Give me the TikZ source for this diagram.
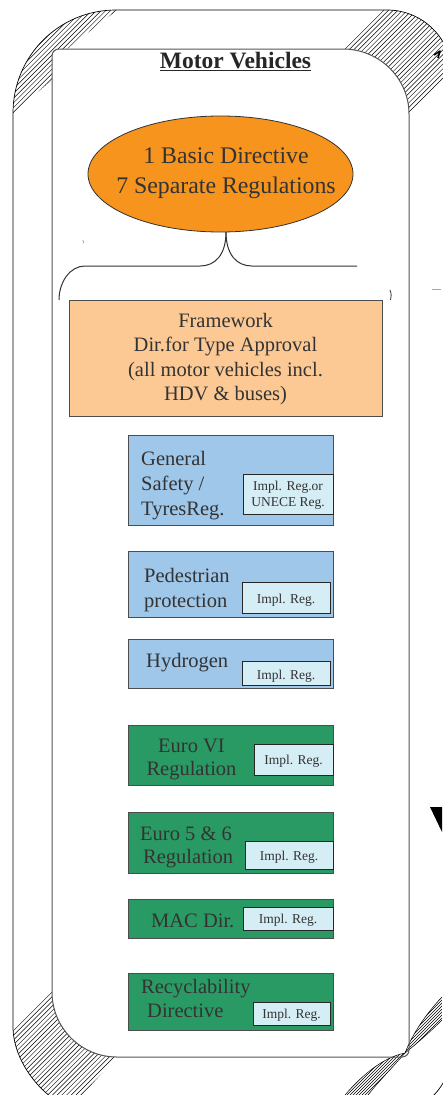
\documentclass[tikz,border=0pt]{standalone}
\usepackage{fontspec}
\setmainfont{Liberation Serif}
\usetikzlibrary{shapes.geometric}
\definecolor{ellorange}{HTML}{F7941E}
\definecolor{fwpeach}{HTML}{FCC995}
\definecolor{safeblue}{HTML}{9FC7EA}
\definecolor{envgreen}{HTML}{2A9A65}
\definecolor{implcyan}{HTML}{D5EDF5}
\definecolor{txtgray}{HTML}{333333}
\definecolor{framegray}{HTML}{555555}
\begin{document}
\begin{tikzpicture}[x=1pt,y=-1pt,
  outerln/.style={draw=black, line width=0.7pt},
  innerln/.style={draw=framegray, line width=1pt},
  hatchln/.style={line width=0.45pt, black},
  fbox/.style={draw=black!70, line width=0.9pt, inner sep=0pt},
  ibox/.style={draw=black!85, fill=implcyan, line width=0.9pt, inner sep=0pt},
  bigtxt/.style={inner sep=0pt, text=txtgray, font=\fontsize{20.5}{24}\selectfont},
  ebtxt/.style={inner sep=0pt, text=txtgray, font=\fontsize{23.8}{28}\selectfont},
  smalltxt/.style={inner sep=0pt, text=txtgray, font=\fontsize{13.5}{16}\selectfont},
  bracestyle/.style={draw=black!80, line width=1pt},
]
\useasboundingbox (0,0) rectangle (442,1095);
\fill[white] (0,0) rectangle (442,1095);

% ---------- hatched corners ----------
% top left
\begin{scope}[even odd rule]
\clip (0,124) -- (52,80) -- (67,49) -- (130,0) -- (0,0) -- cycle;
\clip (13,113) .. controls (13,56) and (59,10) .. (116,10) -- (387,10) .. controls (423,10) and (452,39) .. (452,75) -- (452,1050) .. controls (452,1086) and (423,1115) .. (387,1115) -- (101,1115) .. controls (52,1115) and (13,1066) .. (13,1027) -- cycle
 (52,56) .. controls (52,52) and (55,49) .. (59,49) -- (343,49) .. controls (379,49) and (409,78) .. (409,114) -- (409,1050) .. controls (409,1054) and (406,1057) .. (402,1057) -- (117,1057) .. controls (81,1057) and (52,1028) .. (52,992) -- cycle;
\foreach \c in {60,64.7,...,150} \draw[hatchln] (\c,0) -- ++(-300,300);
\end{scope}
% top right
\begin{scope}[even odd rule]
\clip (390,0) -- (330,63) -- (400,121) -- (460,65) -- (460,0) -- cycle;
\clip (13,113) .. controls (13,56) and (59,10) .. (116,10) -- (387,10) .. controls (423,10) and (452,39) .. (452,75) -- (452,1050) .. controls (452,1086) and (423,1115) .. (387,1115) -- (101,1115) .. controls (52,1115) and (13,1066) .. (13,1027) -- cycle
 (52,56) .. controls (52,52) and (55,49) .. (59,49) -- (343,49) .. controls (379,49) and (409,78) .. (409,114) -- (409,1050) .. controls (409,1054) and (406,1057) .. (402,1057) -- (117,1057) .. controls (81,1057) and (52,1028) .. (52,992) -- cycle;
\foreach \c in {380,384.7,...,545} \draw[hatchln] (\c,0) -- ++(-300,300);
\end{scope}
% bottom left
\begin{scope}[even odd rule]
\clip (0,1043) -- (60,984) -- (125,1048) -- (70,1108) -- (0,1108) -- cycle;
\clip (13,113) .. controls (13,56) and (59,10) .. (116,10) -- (387,10) .. controls (423,10) and (452,39) .. (452,75) -- (452,1050) .. controls (452,1086) and (423,1115) .. (387,1115) -- (101,1115) .. controls (52,1115) and (13,1066) .. (13,1027) -- cycle
 (52,56) .. controls (52,52) and (55,49) .. (59,49) -- (343,49) .. controls (379,49) and (409,78) .. (409,114) -- (409,1050) .. controls (409,1054) and (406,1057) .. (402,1057) -- (117,1057) .. controls (81,1057) and (52,1028) .. (52,992) -- cycle;
\foreach \c in {1030,1034.7,...,1200} \draw[hatchln] (\c-900,900) -- ++(-300,300);
\end{scope}
% bottom right curl
\begin{scope}
\clip (345,1095) .. controls (365,1072) and (385,1057) .. (405,1053) .. controls (392,1068) and (378,1082) .. (368,1095) -- cycle
      (405,1053) .. controls (412,1035) and (425,1015) .. (442,997) -- (442,1020) .. controls (430,1032) and (415,1045) .. (405,1053) -- cycle;
\foreach \c in {1430,1433,...,1475} \draw[hatchln] (\c-900,900) -- ++(-300,300);
\end{scope}
\draw[line width=0.5pt] (345,1095) .. controls (365,1072) and (385,1057) .. (405,1053) .. controls (392,1068) and (378,1082) .. (368,1095);
\draw[line width=0.5pt] (405,1053) .. controls (412,1035) and (425,1015) .. (442,997);
\draw[line width=0.5pt] (442,1020) .. controls (430,1032) and (415,1045) .. (405,1053);

% ---------- outer and inner frames ----------
\draw[outerln] (13,113) .. controls (13,56) and (59,10) .. (116,10) -- (387,10) .. controls (423,10) and (452,39) .. (452,75) -- (452,1050) .. controls (452,1086) and (423,1115) .. (387,1115) -- (101,1115) .. controls (52,1115) and (13,1066) .. (13,1027) -- cycle;
\draw[innerln] (52,56) .. controls (52,52) and (55,49) .. (59,49) -- (343,49) .. controls (379,49) and (409,78) .. (409,114) -- (409,1050) .. controls (409,1054) and (406,1057) .. (402,1057) -- (117,1057) .. controls (81,1057) and (52,1028) .. (52,992) -- cycle;

% fragments at the right edge
\draw[line width=1.6pt, line join=round] (434,55) -- (440,51) -- (438,58);
\draw[black!35, line width=1pt] (432,289) -- (441,289);
\fill[black] (430,807) -- (442,807) -- (442,832) -- cycle;

% ---------- title ----------
\node[inner sep=0pt, anchor=base, text=black!85, font=\fontsize{23.5}{28}\selectfont\bfseries] (title) at (235.5,68) {\underline{Motor Vehicles}};

% ---------- ellipse ----------
\node[ellipse, draw=black!80, fill=ellorange, line width=0.8pt, minimum width=265pt, minimum height=116pt, inner sep=0pt] (ell) at (220.5,174) {};
\node[ebtxt, anchor=base] (ell1) at (226,163) {1 Basic Directive};
\node[ebtxt, anchor=base] (ell2) at (226,193) {7 Separate Regulations};

% ---------- brace ----------
\coordinate (bt) at (226,232);
\coordinate (bl) at (59,300);
\coordinate (br) at (357,266);
\draw[bracestyle] (bt) .. controls (226,255) and (215,266) .. (200,266) -- (85,266) .. controls (70,266) and (59,282) .. (bl);
\draw[bracestyle] (bt) .. controls (226,255) and (237,266) .. (252,266) -- (br);
\coordinate (m1) at (390,290);
\coordinate (m2) at (83,240);
\draw[black!80, line width=0.8pt] (m1) .. controls (391.5,294) and (391.5,297) .. (390.5,300);
\draw[black!40, line width=0.8pt] (m2) -- (83.5,243);

% ---------- framework ----------
\node[fbox, fill=fwpeach, minimum width=313pt, minimum height=116pt] (fw) at (225.5,358) {};
\node[bigtxt, anchor=base] (fw1) at (225.5,327) {Framework};
\node[bigtxt, anchor=base] (fw2) at (225.5,351.5) {Dir.for Type Approval};
\node[bigtxt, anchor=base] (fw3) at (225.5,376) {(all motor vehicles incl.};
\node[bigtxt, anchor=base] (fw4) at (225.5,400.5) {HDV \& buses)};

% ---------- general safety ----------
\node[fbox, fill=safeblue, minimum width=205pt, minimum height=90pt] (gs) at (230.5,480) {};
\node[bigtxt, anchor=base west] (gs1) at (141,465) {General};
\node[bigtxt, anchor=base west] (gs2) at (141,490) {Safety /};
\node[bigtxt, anchor=base west] (gs3) at (141,515) {TyresReg.};
\node[ibox, minimum width=90pt, minimum height=40pt] (gsi) at (288,494) {};
\node[smalltxt, anchor=base] (gsi1) at (288,490) {Impl. Reg.or};
\node[smalltxt, anchor=base] (gsi2) at (288,506) {UNECE Reg.};

% ---------- pedestrian ----------
\node[fbox, fill=safeblue, minimum width=205pt, minimum height=66pt] (pp) at (230.5,584) {};
\node[bigtxt, anchor=base west] (pp1) at (144,582) {Pedestrian};
\node[bigtxt, anchor=base west] (pp2) at (144,607) {protection};
\node[ibox, minimum width=88pt, minimum height=31pt] (ppi) at (286,597.5) {};
\node[smalltxt, anchor=base] (ppi1) at (286,603) {Impl. Reg.};

% ---------- hydrogen ----------
\node[fbox, fill=safeblue, minimum width=205pt, minimum height=49pt] (hy) at (230.5,663.5) {};
\node[bigtxt, anchor=base west] (hy1) at (146,667) {Hydrogen};
\node[ibox, minimum width=88pt, minimum height=24pt] (hyi) at (286,673) {};
\node[smalltxt, anchor=base] (hyi1) at (286,679) {Impl. Reg.};

% ---------- euro VI ----------
\node[fbox, fill=envgreen, minimum width=205pt, minimum height=60pt] (e6) at (230.5,755) {};
\node[bigtxt, anchor=base] (e61) at (191.5,752) {Euro VI};
\node[bigtxt, anchor=base] (e62) at (191.5,775) {Regulation};
\node[ibox, minimum width=79pt, minimum height=31pt] (e6i) at (293.5,759.5) {};
\node[smalltxt, anchor=base] (e6i1) at (293.5,764) {Impl. Reg.};

% ---------- euro 5 & 6 ----------
\node[fbox, fill=envgreen, minimum width=205pt, minimum height=61pt] (e5) at (230.5,842.5) {};
\node[bigtxt, anchor=base west] (e51) at (140,840) {Euro 5 \& 6};
\node[bigtxt, anchor=base west] (e52) at (143,863) {Regulation};
\node[ibox, minimum width=88pt, minimum height=28pt] (e5i) at (289,855) {};
\node[smalltxt, anchor=base] (e5i1) at (289,860) {Impl. Reg.};

% ---------- MAC ----------
\node[fbox, fill=envgreen, minimum width=205pt, minimum height=39pt] (mac) at (230.5,918.5) {};
\node[bigtxt, anchor=base west] (mac1) at (151,927) {MAC Dir.};
\node[ibox, minimum width=90pt, minimum height=23pt] (maci) at (288,918.5) {};
\node[smalltxt, anchor=base] (maci1) at (288,923) {Impl. Reg.};

% ---------- recyclability ----------
\node[fbox, fill=envgreen, minimum width=205pt, minimum height=57pt] (rc) at (230.5,1001.5) {};
\node[bigtxt, anchor=base west] (rc1) at (141,993) {Recyclability};
\node[bigtxt, anchor=base west] (rc2) at (147,1017) {Directive};
\node[ibox, minimum width=77pt, minimum height=23pt] (rci) at (291.5,1013.5) {};
\node[smalltxt, anchor=base] (rci1) at (291.5,1018) {Impl. Reg.};
\end{tikzpicture}
\end{document}
